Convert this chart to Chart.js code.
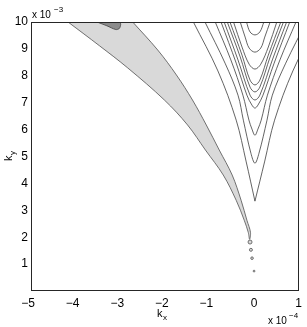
<!DOCTYPE html>
<html>
<head>
<meta charset="utf-8">
<script src="https://cdn.jsdelivr.net/npm/chart.js@4.4.0/dist/chart.umd.min.js"></script>
<style>
  html, body { margin: 0; padding: 0; background: #fff; }
</style>
</head>
<body>
<canvas id="chart" width="307" height="327"></canvas>
<script>
// kx is in units of 1e-4, ky in units of 1e-3 (see the axis multipliers)
const xTicks = [-5, -4, -3, -2, -1, 0, 1];
const yTicks = [1, 2, 3, 4, 5, 6, 7, 8, 9, 10];

// light grey region: left edge going down, then right edge going back up
const bandOutline = [
  [-4.17, 10], [-3.46, 9.11], [-2.83, 8.29], [-2.01, 7.10], [-1.49, 6.17], [-1.09, 5.24],
  [-0.69, 4.31], [-0.40, 3.37], [-0.22, 2.63], [-0.13, 2.18], [-0.10, 1.92],
  [-0.08, 2.18], [-0.16, 2.63], [-0.29, 3.37], [-0.49, 4.31], [-0.78, 5.24], [-1.07, 6.17],
  [-1.38, 7.10], [-1.74, 8.03], [-2.16, 8.96], [-2.72, 10]
];

// darker patch touching the top edge
const darkPatch = [
  [-3.52, 10], [-3.30, 9.86], [-3.10, 9.72], [-3.02, 9.76], [-2.99, 9.90], [-3.00, 10]
];

// tiny closed contours below the tip of the band
const specks = [[-0.09, 1.82], [-0.07, 1.53], [-0.045, 1.22], [0.0, 0.74]];

// open contours around kx = 0, outermost first
const contourA = [[-1.36, 10], [-0.81, 8.18], [-0.40, 6.35], [-0.18, 4.83], [0.02, 3.34],
                  [0.24, 4.83], [0.46, 6.35], [0.87, 8.18], [1.42, 10]];
const contourB = [[-1.10, 10], [-0.65, 8.47], [-0.36, 7.28], [-0.24, 6.35], [-0.07, 5.12], [0.02, 4.75],
                  [0.11, 5.12], [0.29, 6.35], [0.41, 7.28], [0.71, 8.47], [1.17, 10]];
const contourC = [[-0.87, 10], [-0.52, 8.59], [-0.25, 7.28], [-0.114, 6.35], [-0.047, 6.02], [0.02, 5.79],
                  [0.087, 6.02], [0.16, 6.35], [0.30, 7.28], [0.58, 8.59], [0.94, 10]];
const contourD = [[-0.74, 10], [-0.40, 8.47], [-0.16, 7.28], [-0.047, 6.91], [0.02, 6.80],
                  [0.087, 6.91], [0.20, 7.28], [0.45, 8.47], [0.80, 10]];
const contourE = [[-0.67, 10], [-0.36, 8.59], [-0.09, 7.28], [0.02, 7.10],
                  [0.13, 7.28], [0.41, 8.59], [0.73, 10]];
const contourF = [[-0.60, 10], [-0.31, 8.70], [-0.09, 7.58], [0.02, 7.40],
                  [0.13, 7.58], [0.36, 8.70], [0.66, 10]];
const contourG = [[-0.54, 10], [-0.27, 8.77], [-0.09, 7.84], [0.02, 7.66],
                  [0.13, 7.84], [0.32, 8.77], [0.60, 10]];
const contourH = [[-0.46, 10], [-0.27, 9.07], [-0.11, 8.43], [0.02, 8.25],
                  [0.15, 8.43], [0.32, 9.07], [0.51, 10]];
const contourI = [[-0.31, 10], [-0.20, 9.44], [-0.11, 9.03], [0.02, 8.88],
                  [0.15, 9.03], [0.24, 9.44], [0.36, 10]];
const contourJ = [[-0.17, 10], [-0.09, 9.63], [0.02, 9.52], [0.13, 9.63], [0.22, 10]];

const contours = [contourB, contourC, contourD, contourE, contourF, contourG, contourH, contourI, contourJ];

const toXY = pts => pts.map(p => ({ x: p[0], y: p[1] }));
const lineColor = '#3c3c3c';

// higher order is drawn first (underneath)
const datasets = [
  {
    order: 3, data: toXY(bandOutline), showLine: true, fill: 'shape', tension: 0.35,
    backgroundColor: 'rgb(217,217,217)', borderColor: '#505050', borderWidth: 0.8, pointRadius: 0
  },
  {
    order: 2, data: toXY(darkPatch), showLine: true, fill: 'shape', tension: 0.3,
    backgroundColor: 'rgb(140,140,140)', borderColor: '#404040', borderWidth: 0.8, pointRadius: 0
  },
  {
    order: 1, data: toXY(specks), showLine: false, pointStyle: 'circle',
    pointRadius: [2, 1.5, 1.3, 0.9], borderColor: '#505050', borderWidth: 0.8,
    backgroundColor: 'rgb(217,217,217)'
  },
  // the outermost contour has a sharp apex, so draw its two arms separately
  {
    order: 1, data: toXY(contourA.slice(0, 5)), showLine: true, tension: 0.35,
    borderColor: lineColor, borderWidth: 0.8, pointRadius: 0
  },
  {
    order: 1, data: toXY(contourA.slice(4)), showLine: true, tension: 0.35,
    borderColor: lineColor, borderWidth: 0.8, pointRadius: 0
  }
];
contours.forEach(c => datasets.push({
  order: 1, data: toXY(c), showLine: true, tension: 0.35,
  borderColor: lineColor, borderWidth: 0.8, pointRadius: 0
}));

// negative x labels sit a little left of their tick in the original, hence the en space
const fmt = v => (v < 0 ? '\u2212' + Math.abs(v) : String(v));
const fmtX = v => (v < 0 ? fmt(v) + '\u2002' : fmt(v));

const labelsPlugin = {
  id: 'labels',
  afterDraw(chart) {
    const ctx = chart.ctx;
    const a = chart.chartArea;
    ctx.save();
    ctx.strokeStyle = '#262626';
    ctx.lineWidth = 1;
    ctx.strokeRect(Math.round(a.left) + 0.5, Math.round(a.top) + 0.5,
                   Math.round(a.right - a.left) - 1, Math.round(a.bottom - a.top) - 1);

    ctx.fillStyle = '#000';
    ctx.textAlign = 'left';
    ctx.textBaseline = 'alphabetic';

    // multiplier on y axis
    ctx.font = '10px "Liberation Sans", Arial, sans-serif';
    ctx.fillText('x 10', 32, 18);
    ctx.font = '8px "Liberation Sans", Arial, sans-serif';
    ctx.fillText('\u22123', 54, 12);

    // multiplier on x axis
    ctx.font = '10px "Liberation Sans", Arial, sans-serif';
    ctx.fillText('x 10', 268, 324);
    ctx.font = '8px "Liberation Sans", Arial, sans-serif';
    ctx.fillText('\u22124', 289, 318);

    // k_x
    ctx.font = '11px "Liberation Sans", Arial, sans-serif';
    ctx.fillText('k', 157, 317);
    ctx.font = '8px "Liberation Sans", Arial, sans-serif';
    ctx.fillText('x', 163, 320);

    // k_y, rotated
    ctx.translate(12, 161);
    ctx.rotate(-Math.PI / 2);
    ctx.font = '11px "Liberation Sans", Arial, sans-serif';
    ctx.fillText('k', 0, 0);
    ctx.font = '8px "Liberation Sans", Arial, sans-serif';
    ctx.fillText('y', 6, 3);
    ctx.restore();
  }
};

new Chart(document.getElementById('chart'), {
  type: 'scatter',
  data: { datasets },
  options: {
    responsive: false,
    animation: false,
    layout: { padding: { top: 22, right: 7, left: 0, bottom: 0 } },
    plugins: { legend: { display: false }, tooltip: { enabled: false } },
    scales: {
      x: {
        type: 'linear', min: -5, max: 1,
        afterBuildTicks: s => { s.ticks = xTicks.map(v => ({ value: v })); },
        afterFit: s => { s.height = 36; },
        grid: { display: false, drawTicks: false, tickLength: 0 },
        border: { display: false },
        ticks: {
          callback: v => fmtX(v), padding: 5, color: '#000', maxRotation: 0,
          font: { family: '"Liberation Sans", Arial, sans-serif', size: 12 }
        }
      },
      y: {
        type: 'linear', min: 0, max: 10,
        afterBuildTicks: s => { s.ticks = yTicks.map(v => ({ value: v })); },
        afterFit: s => { s.width = 31; },
        grid: { display: false, drawTicks: false, tickLength: 0 },
        border: { display: false },
        ticks: {
          callback: v => fmt(v), padding: 3, color: '#000',
          font: { family: '"Liberation Sans", Arial, sans-serif', size: 12 }
        }
      }
    }
  },
  plugins: [labelsPlugin]
});
</script>
</body>
</html>
